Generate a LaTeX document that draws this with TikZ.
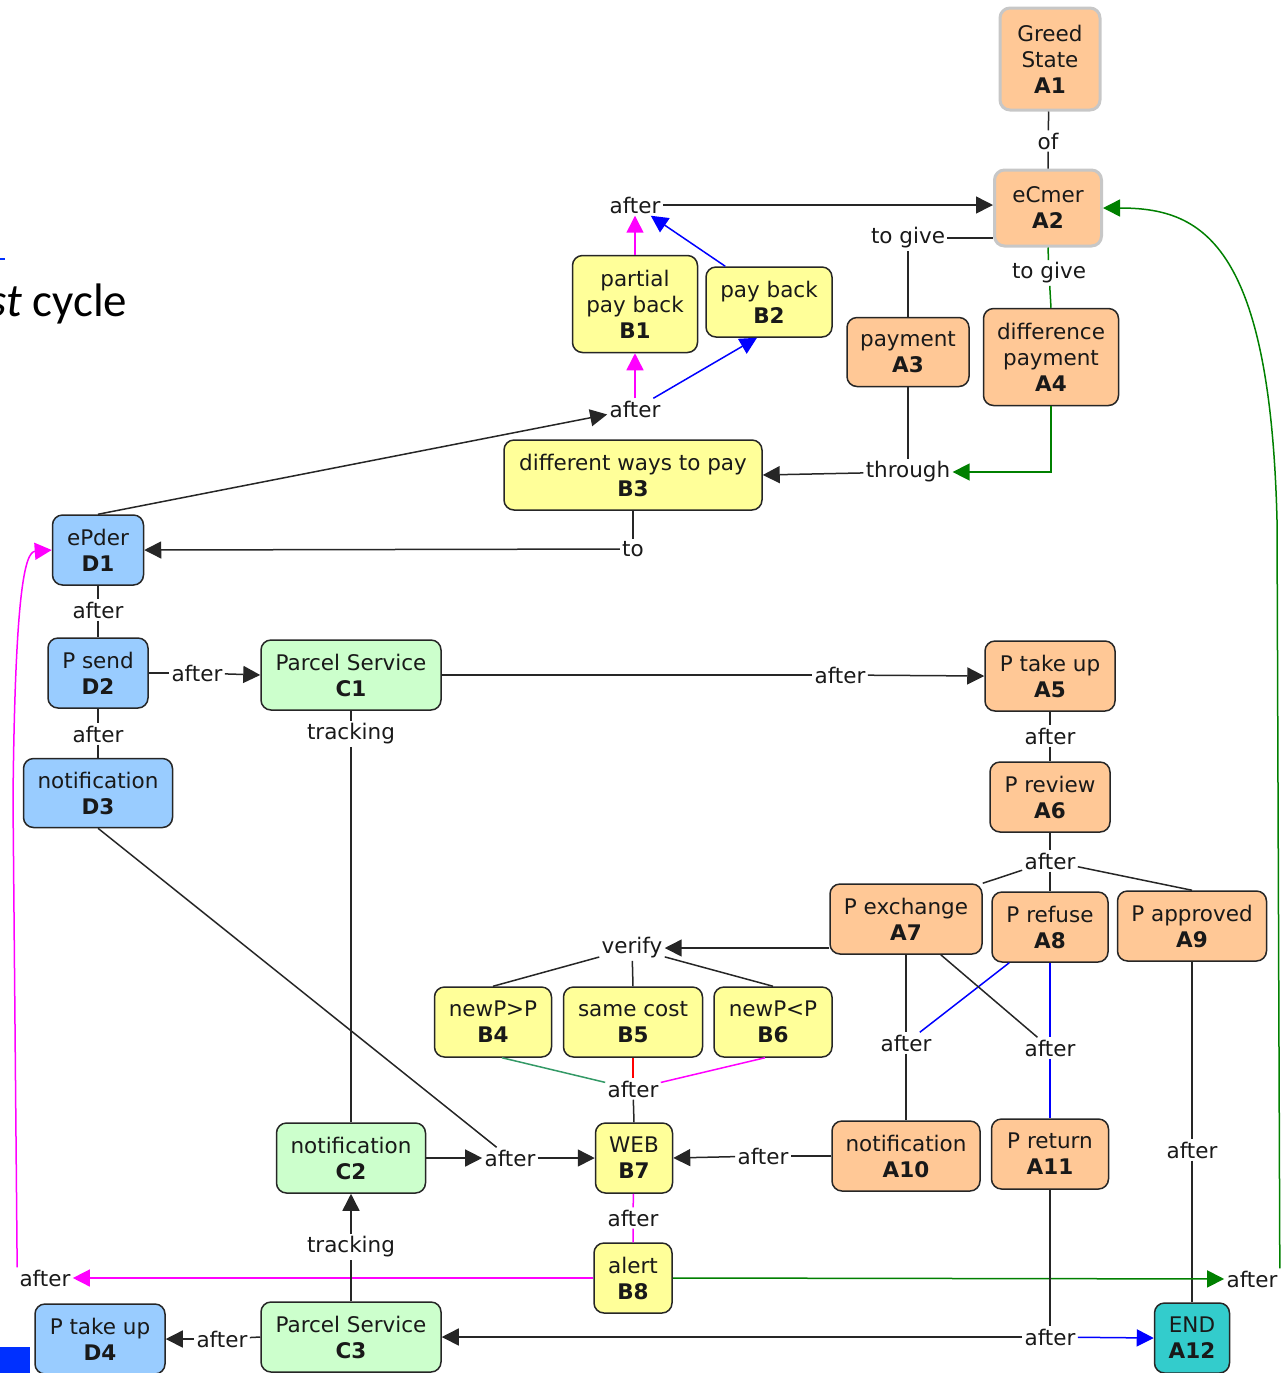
\documentclass[tikz,border=0pt]{standalone}
\usepackage{fontspec}
\setmainfont{DejaVu Sans}
\newfontfamily\slidefont{Carlito}
\usepackage{xcolor}
\usepackage{tikz}
\usetikzlibrary{arrows.meta}

\definecolor{peach}{RGB}{255,200,150}
\definecolor{lemon}{RGB}{255,255,153}
\definecolor{sky}{RGB}{153,204,255}
\definecolor{mint}{RGB}{204,255,204}
\definecolor{endteal}{RGB}{51,204,204}
\definecolor{linkgreen}{RGB}{0,128,0}
\definecolor{seagreen}{RGB}{51,153,102}
\definecolor{linkpink}{RGB}{255,0,255}
\definecolor{linkblue}{RGB}{0,0,255}
\definecolor{linkred}{RGB}{255,0,0}
\definecolor{slideblue}{RGB}{0,48,255}

\begin{document}
\begin{tikzpicture}[
    x=0.5pt, y=-0.5pt,
    font=\fontsize{10.75pt}{13pt}\selectfont,
    box/.style={rectangle, rounded corners=5pt, draw=black!85, line width=0.75pt, align=center, inner sep=1pt, text=black!90, minimum height=35pt},
    boxA/.style={box, fill=peach},
    boxB/.style={box, fill=lemon},
    boxC/.style={box, fill=mint},
    boxD/.style={box, fill=sky},
    boxEnd/.style={box, fill=endteal},
    lbl/.style={inner sep=1pt, text=black!90},
    link/.style={line width=0.75pt, color=black!85},
    arr/.style={link, -{Triangle[length=8.5pt,width=8.5pt]}}
]

\useasboundingbox (0,0) rectangle (1281,1373);

\node[anchor=base west, inner sep=0pt, font=\slidefont\fontsize{23.5pt}{28pt}\selectfont] (title) at (-12,316) {\textit{st} cycle};
\draw[slideblue, line width=0.6pt] (0,259) -- (5,259);
\fill[slideblue] (0,1347) rectangle (30,1373);

\node[boxA, draw=black!22, line width=1.5pt, minimum width=50pt, minimum height=51pt] (A1) at (1050,59) {Greed\\State\\\textbf{A1}};
\node[boxA, draw=black!22, line width=1.5pt, minimum width=53.5pt, minimum height=38pt] (A2) at (1048,208) {eCmer\\\textbf{A2}};
\node[boxA, minimum width=61pt, minimum height=34.5pt] (A3) at (908,352) {payment\\\textbf{A3}};
\node[boxA, minimum width=67.5pt, minimum height=48.5pt] (A4) at (1051,357) {difference\\payment\\\textbf{A4}};
\node[boxB, minimum width=62.5pt, minimum height=48.5pt] (B1) at (635,304) {partial\\pay back\\\textbf{B1}};
\node[boxB, minimum width=63pt] (B2) at (769,302) {pay back\\\textbf{B2}};
\node[boxB, minimum width=129pt] (B3) at (633,475) {different ways to pay\\\textbf{B3}};
\node[boxD, minimum width=45.5pt] (D1) at (98,550) {ePder\\\textbf{D1}};
\node[boxD, minimum width=50pt] (D2) at (98,673) {P send\\\textbf{D2}};
\node[boxC, minimum width=90pt] (C1) at (351,675) {Parcel Service\\\textbf{C1}};
\node[boxA, minimum width=65pt] (A5) at (1050,676) {P take up\\\textbf{A5}};
\node[boxA, minimum width=60pt] (A6) at (1050,797) {P review\\\textbf{A6}};
\node[boxD, minimum width=74.5pt, minimum height=34.5pt] (D3) at (98,793) {notification\\\textbf{D3}};
\node[boxA, minimum width=76pt] (A7) at (906,919) {P exchange\\\textbf{A7}};
\node[boxA, minimum width=58pt] (A8) at (1050,927) {P refuse\\\textbf{A8}};
\node[boxA, minimum width=74.5pt] (A9) at (1192,926) {P approved\\\textbf{A9}};
\node[boxB, minimum width=58.5pt] (B4) at (493,1022) {newP>P\\\textbf{B4}};
\node[boxB, minimum width=69.5pt] (B5) at (633,1022) {same cost\\\textbf{B5}};
\node[boxB, minimum width=59pt] (B6) at (773,1022) {newP<P\\\textbf{B6}};
\node[boxC, minimum width=74.5pt] (C2) at (351,1158) {notification\\\textbf{C2}};
\node[boxB, minimum width=38.5pt] (B7) at (634,1158) {WEB\\\textbf{B7}};
\node[boxA, minimum width=74pt] (A10) at (906,1156) {notification\\\textbf{A10}};
\node[boxA, minimum width=58.5pt] (A11) at (1050,1154) {P return\\\textbf{A11}};
\node[boxB, minimum width=39pt] (B8) at (633,1278) {alert\\\textbf{B8}};
\node[boxEnd, minimum width=37.5pt] (A12) at (1192,1338) {END\\\textbf{A12}};
\node[boxC, minimum width=90pt] (C3) at (351,1337) {Parcel Service\\\textbf{C3}};
\node[boxD, minimum width=65pt] (D4) at (100,1339) {P take up\\\textbf{D4}};

\node[lbl] (lof) at (1048,141) {of};
\node[lbl] (lgive1) at (908,238) {to give};
\node[lbl] (lgive2) at (1049,273) {to give};
\node[lbl] (lthrough) at (908,472) {through};
\node[lbl] (lto) at (633,549) {to};
\node[lbl] (la1) at (635,409) {after};
\node[lbl] (la2) at (635,205) {after};
\node[lbl] (la3) at (98,610) {after};
\node[lbl] (la4) at (197,673) {after};
\node[lbl] (la5) at (840,675) {after};
\node[lbl] (ltrack1) at (351,734) {tracking};
\node[lbl] (la6) at (98,734) {after};
\node[lbl] (la7) at (1050,736) {after};
\node[lbl] (la8) at (1050,861) {after};
\node[lbl] (lverify) at (632,948) {verify};
\node[lbl] (la9) at (633,1089) {after};
\node[lbl] (la10) at (906,1043) {after};
\node[lbl] (la11) at (1050,1048) {after};
\node[lbl] (la12) at (510,1158) {after};
\node[lbl] (la13) at (763,1156) {after};
\node[lbl] (la14) at (1192,1150) {after};
\node[lbl] (la15) at (633,1218) {after};
\node[lbl] (ltrack2) at (351,1247) {tracking};
\node[lbl] (la16) at (45,1278) {after};
\node[lbl] (la17) at (1252,1279) {after};
\node[lbl] (la18) at (222,1339) {after};
\node[lbl] (la19) at (1050,1337) {after};

\draw[link] (A1) -- (lof) -- (A2);
\draw[link] (A3.north) -- (lgive1);
\draw[link] (lgive1) -- (lgive1 -| A2.west);
\draw[link, linkgreen] (A2.south) -- (lgive2) -- (A4.north);
\draw[link] (A3.south) -- (lthrough);
\draw[arr, linkgreen] (A4.south) |- (lthrough);
\draw[arr] (lthrough) -- (B3.east);
\draw[link] (B3.south) -- (lto);
\draw[arr] (lto) -- (D1.east);
\draw[arr] (D1.north) -- (la1);
\draw[arr, linkpink] (la1) -- (B1.south);
\draw[arr, linkblue] (la1) -- ([xshift=-6pt]B2.south);
\draw[arr, linkpink] (B1.north) -- (la2);
\draw[arr, linkblue] ([xshift=10pt]B2.north west) -- (la2);
\draw[arr] (la2) -- (la2 -| A2.west);
\draw[arr, linkgreen] (la17.north east) -- (1277,520) .. controls (1270,240) and (1200,208) .. (A2.east);

\draw[link] (D1) -- (la3) -- (D2);
\draw[link] (D2) -- (la6) -- (D3);
\draw[link] (D2) -- (la4);
\draw[arr] (la4) -- (C1.west);
\draw[link] (C1) -- (la5);
\draw[arr] (la5) -- (A5.west);
\draw[link] (C1) -- (ltrack1) -- (C2);
\draw[link] (A5) -- (la7) -- (A6) -- (la8);
\draw[link] (la8) -- (A7.north east);
\draw[link] (la8) -- (A8.north);
\draw[link] (la8) -- (A9.north);

\draw[arr] (lverify -| A7.west) -- (lverify);
\draw[link] (lverify) -- (B4.north);
\draw[link] (lverify) -- (B5.north);
\draw[link] (lverify) -- (B6.north);
\draw[link, seagreen] ([xshift=4.5pt]B4.south) -- (la9);
\draw[link, linkred] (B5.south) -- (la9);
\draw[link, linkpink] ([xshift=-4pt]B6.south) -- (la9);
\draw[link] (la9) -- (B7.north);

\draw[link] (A7.south) -- (la10) -- (A10.north);
\draw[link, linkblue] ([xshift=9pt]A8.south west) -- (la10);
\draw[link] ([xshift=-21pt]A7.south east) -- (la11);
\draw[link, linkblue] (A8.south) -- (la11) -- (A11.north);
\draw[link] (A9.south) -- (la14) -- (A12.north);
\draw[link] (A10.west) -- (la13);
\draw[arr] (la13) -- (B7.east);

\draw[arr] (C2.east) -- (la12);
\draw[link] (D3.south) -- (la12);
\draw[arr] (la12) -- (B7.west);
\draw[link, linkpink] (B7) -- (la15) -- (B8);
\draw[arr, linkpink] (B8.west) -- (la16);
\draw[arr, linkpink] (la16.north west) -- (13,800) .. controls (15,590) and (25,552) .. (D1.west);
\draw[arr, linkgreen] (B8.east) -- (la17);

\draw[link] (C3.north) -- (ltrack2);
\draw[arr] (ltrack2) -- (C2.south);
\draw[link] (C3.west) -- (la18);
\draw[arr] (la18) -- (D4.east);
\draw[link] (A11.south) -- (la19);
\draw[arr, linkblue] (la19) -- (A12.west);
\draw[arr] (la19) -- (C3.east);

\end{tikzpicture}
\end{document}
